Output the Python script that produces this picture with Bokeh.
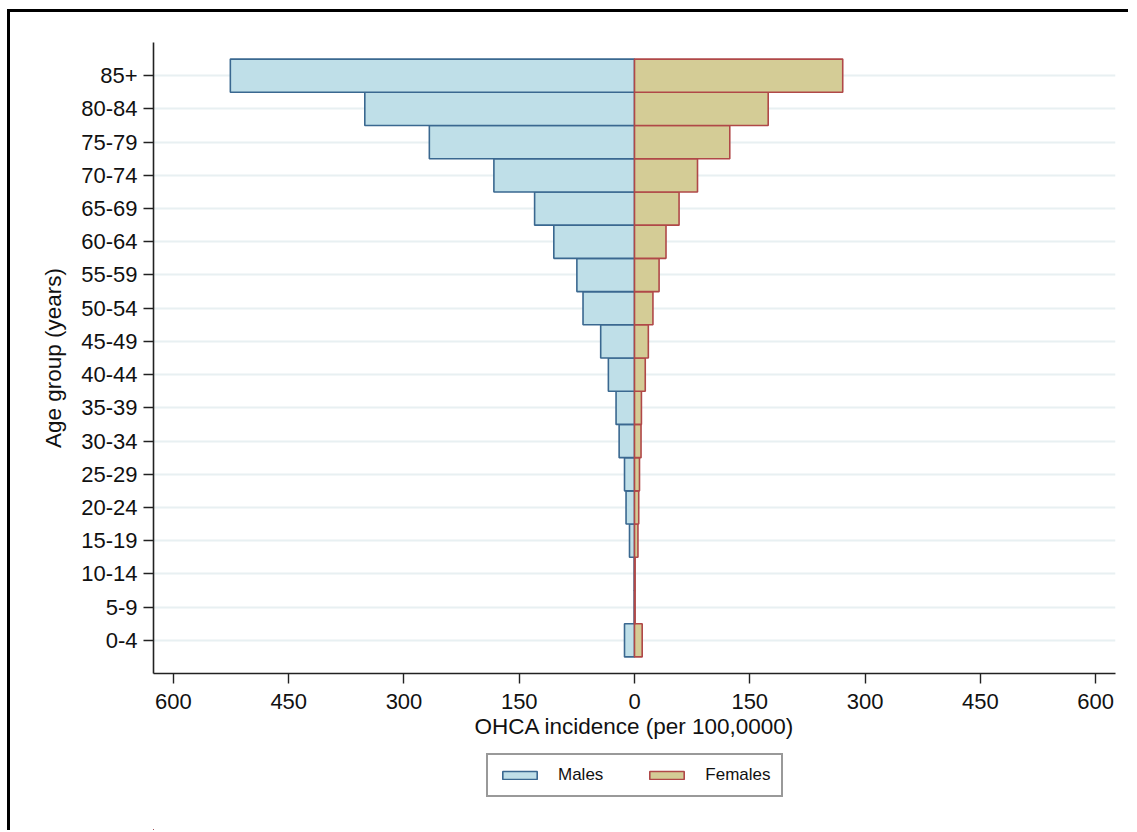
from bokeh.plotting import figure
from bokeh.layouts import column
from bokeh.models import FixedTicker, Legend, LegendItem, Range1d, ColumnDataSource
from bokeh.embed import file_html
from bokeh.resources import INLINE

age_groups = ["0-4", "5-9", "10-14", "15-19", "20-24", "25-29", "30-34", "35-39",
              "40-44", "45-49", "50-54", "55-59", "60-64", "65-69", "70-74",
              "75-79", "80-84", "85+"]
males = [13, 0.5, 0.5, 6.5, 11, 13, 20, 24, 34, 44, 67, 75, 105, 130, 183, 267, 351, 526]
females = [10, 0.8, 0.8, 4.5, 5.5, 6.5, 8.5, 9, 14, 18, 24, 32, 41, 58, 82, 124, 174, 271]
x_ticks = [-600, -450, -300, -150, 0, 150, 300, 450, 600]
series_labels = ["Males", "Females"]

FONT = "Liberation Sans"
M_FILL, M_LINE = "#bfdfe8", "#3a6890"
F_FILL, F_LINE = "#d4cc96", "#b04848"

idx = list(range(len(age_groups)))
src = ColumnDataSource(dict(
    y=idx,
    mleft=[-v for v in males],
    fright=females,
))

p = figure(width=1118, height=740, output_backend="svg", toolbar_location=None,
           x_range=Range1d(-626, 626), y_range=Range1d(-1, len(age_groups)),
           min_border_left=143, min_border_right=13, min_border_top=30,
           min_border_bottom=79)

p.outline_line_color = None
p.background_fill_color = "white"

rm = p.hbar(y="y", left="mleft", right=0, height=1, source=src,
            fill_color=M_FILL, line_color=M_LINE, line_width=1.6)
rf = p.hbar(y="y", left=0, right="fright", height=1, source=src,
            fill_color=F_FILL, line_color=F_LINE, line_width=1.6)

# axes
p.xaxis.ticker = FixedTicker(ticks=x_ticks)
p.xaxis.major_label_overrides = {t: str(abs(t)) for t in x_ticks}
p.yaxis.ticker = FixedTicker(ticks=idx)
p.yaxis.major_label_overrides = {i: a for i, a in enumerate(age_groups)}
p.xaxis.axis_label = "OHCA incidence (per 100,0000)"
p.yaxis.axis_label = "Age group (years)"

for ax in (p.xaxis[0], p.yaxis[0]):
    ax.axis_line_color = "#222222"
    ax.axis_line_width = 1.6
    ax.major_tick_line_color = "#222222"
    ax.major_tick_line_width = 1.4
    ax.major_tick_out = 10
    ax.major_tick_in = 0
    ax.minor_tick_out = 0
    ax.minor_tick_in = 0
    ax.major_label_text_font = FONT
    ax.major_label_text_font_size = "22px"
    ax.major_label_text_color = "#111111"
    ax.axis_label_text_font = FONT
    ax.axis_label_text_font_size = "22.5px"
    ax.axis_label_text_font_style = "normal"
    ax.axis_label_text_color = "#111111"

p.xaxis.major_label_standoff = 10
p.xaxis.axis_label_standoff = 2
p.yaxis.major_label_standoff = 6
p.yaxis.axis_label_standoff = 12
p.yaxis.major_label_orientation = "horizontal"

p.xgrid.grid_line_color = None
p.ygrid.grid_line_color = "#e8f0f2"
p.ygrid.grid_line_width = 2

# legend strip below the chart (its own ranges keep the bars off-screen)
pl = figure(width=1118, height=78, output_backend="svg", toolbar_location=None,
            x_range=Range1d(5000, 5001), y_range=Range1d(5000, 5001),
            x_axis_type=None, y_axis_type=None,
            min_border_left=143, min_border_right=13, min_border_top=0,
            min_border_bottom=0)
pl.outline_line_color = None
pl.xgrid.grid_line_color = None
pl.ygrid.grid_line_color = None
lm = pl.hbar(y="y", left="mleft", right=0, height=1, source=src,
             fill_color=M_FILL, line_color=M_LINE, line_width=1.6)
lf = pl.hbar(y="y", left=0, right="fright", height=1, source=src,
             fill_color=F_FILL, line_color=F_LINE, line_width=1.6)

legend = Legend(items=[LegendItem(label=series_labels[0], renderers=[lm]),
                       LegendItem(label=series_labels[1], renderers=[lf])],
                orientation="horizontal", location=(333, 33),
                glyph_width=43, glyph_height=10, label_standoff=17, spacing=42,
                padding=10, margin=0,
                label_text_font=FONT, label_text_font_size="17px",
                label_text_color="#111111",
                border_line_color="#333333", border_line_width=2,
                background_fill_color="white")
pl.add_layout(legend, "center")

layout = column(p, pl, spacing=0,
                styles={"border-left": "3px solid #000", "border-top": "3px solid #000",
                        "margin-left": "7px", "margin-top": "9px"})

open("out.html", "w").write(file_html(layout, INLINE))
